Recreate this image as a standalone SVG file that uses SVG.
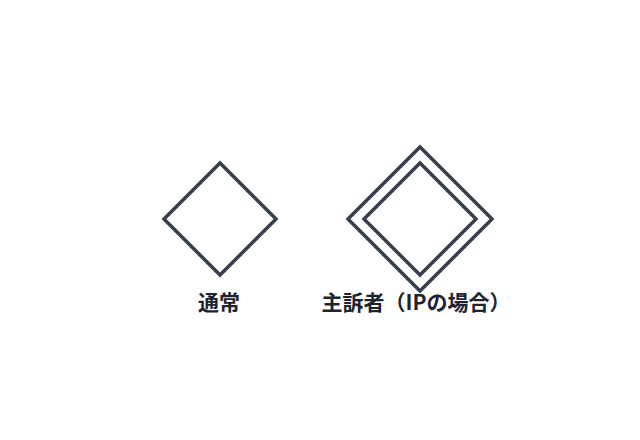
<svg xmlns="http://www.w3.org/2000/svg" width="640" height="440" viewBox="0 0 640 440">
<style>
.d{fill:#ffffff;stroke:#383f4d;stroke-width:3.5;stroke-linejoin:miter}
.t{font-family:"Noto Sans CJK JP","Noto Sans",sans-serif;font-weight:bold;font-size:21px;fill:#1e2330;text-anchor:middle}
</style>
<rect width="640" height="440" fill="#ffffff"/>
<g id="normal">
<polygon class="d" points="220,163 276,219 220,275 164,219"/>
<text class="t" x="219" y="310">通常</text>
</g>
<g id="ip">
<polygon class="d" points="420,147 492,219 420,291 348,219"/>
<polygon class="d" points="420,163 476,219 420,275 364,219"/>
<text class="t" x="416" y="310">主訴者（IPの場合）</text>
</g>
<g id="connectors"></g>
</svg>
